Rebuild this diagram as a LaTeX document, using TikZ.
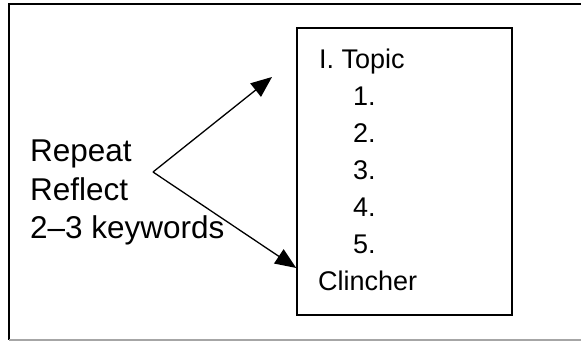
\documentclass[tikz,border=0pt]{standalone}
\usepackage{fontspec}
\setmainfont{Liberation Sans}
\usetikzlibrary{arrows.meta}

\begin{document}
\begin{tikzpicture}[x=1pt, y=-1pt,
  cue/.style={anchor=base west, inner sep=0pt, font=\fontsize{31.5}{36}\selectfont},
  entry/.style={anchor=base west, inner sep=0pt, font=\fontsize{27}{31}\selectfont},
  pointer/.style={line width=1.3pt, -{Triangle[length=21pt, width=17pt]}}]
\useasboundingbox (0,0) rectangle (581,341);

% Draw the page frame
\draw[line width=1.5pt] (581,4) -- (9,4) -- (9,340);
\draw[line width=1.5pt, black!35] (9,340) -- (581,340);

% Draw the outline box
\node[draw, line width=1.5pt, minimum width=215pt, minimum height=287pt] (outline) at (404.5,171.5) {};

% Draw the outline entries
\node[entry] (topic) at (319,68) {I. Topic};
\node[entry] (first) at (353,105) {1.};
\node[entry] (second) at (353,142) {2.};
\node[entry] (third) at (353,179) {3.};
\node[entry] (fourth) at (353,216) {4.};
\node[entry] (fifth) at (353,253) {5.};
\node[entry] (clincher) at (318,290) {Clincher};

% Draw the cue words
\node[cue] (repeat) at (30,161) {Repeat};
\node[cue] (reflect) at (30,200) {Reflect};
\node[cue] (keywords) at (30,238) {2--3 keywords};

% Draw the arrows
\coordinate (fork) at (153,172);
\coordinate (upper) at (272,77);
\coordinate (lower) at (outline.west |- 0,268);
\draw[pointer] (fork) -- (upper);
\draw[pointer] (fork) -- (lower);
\end{tikzpicture}
\end{document}
